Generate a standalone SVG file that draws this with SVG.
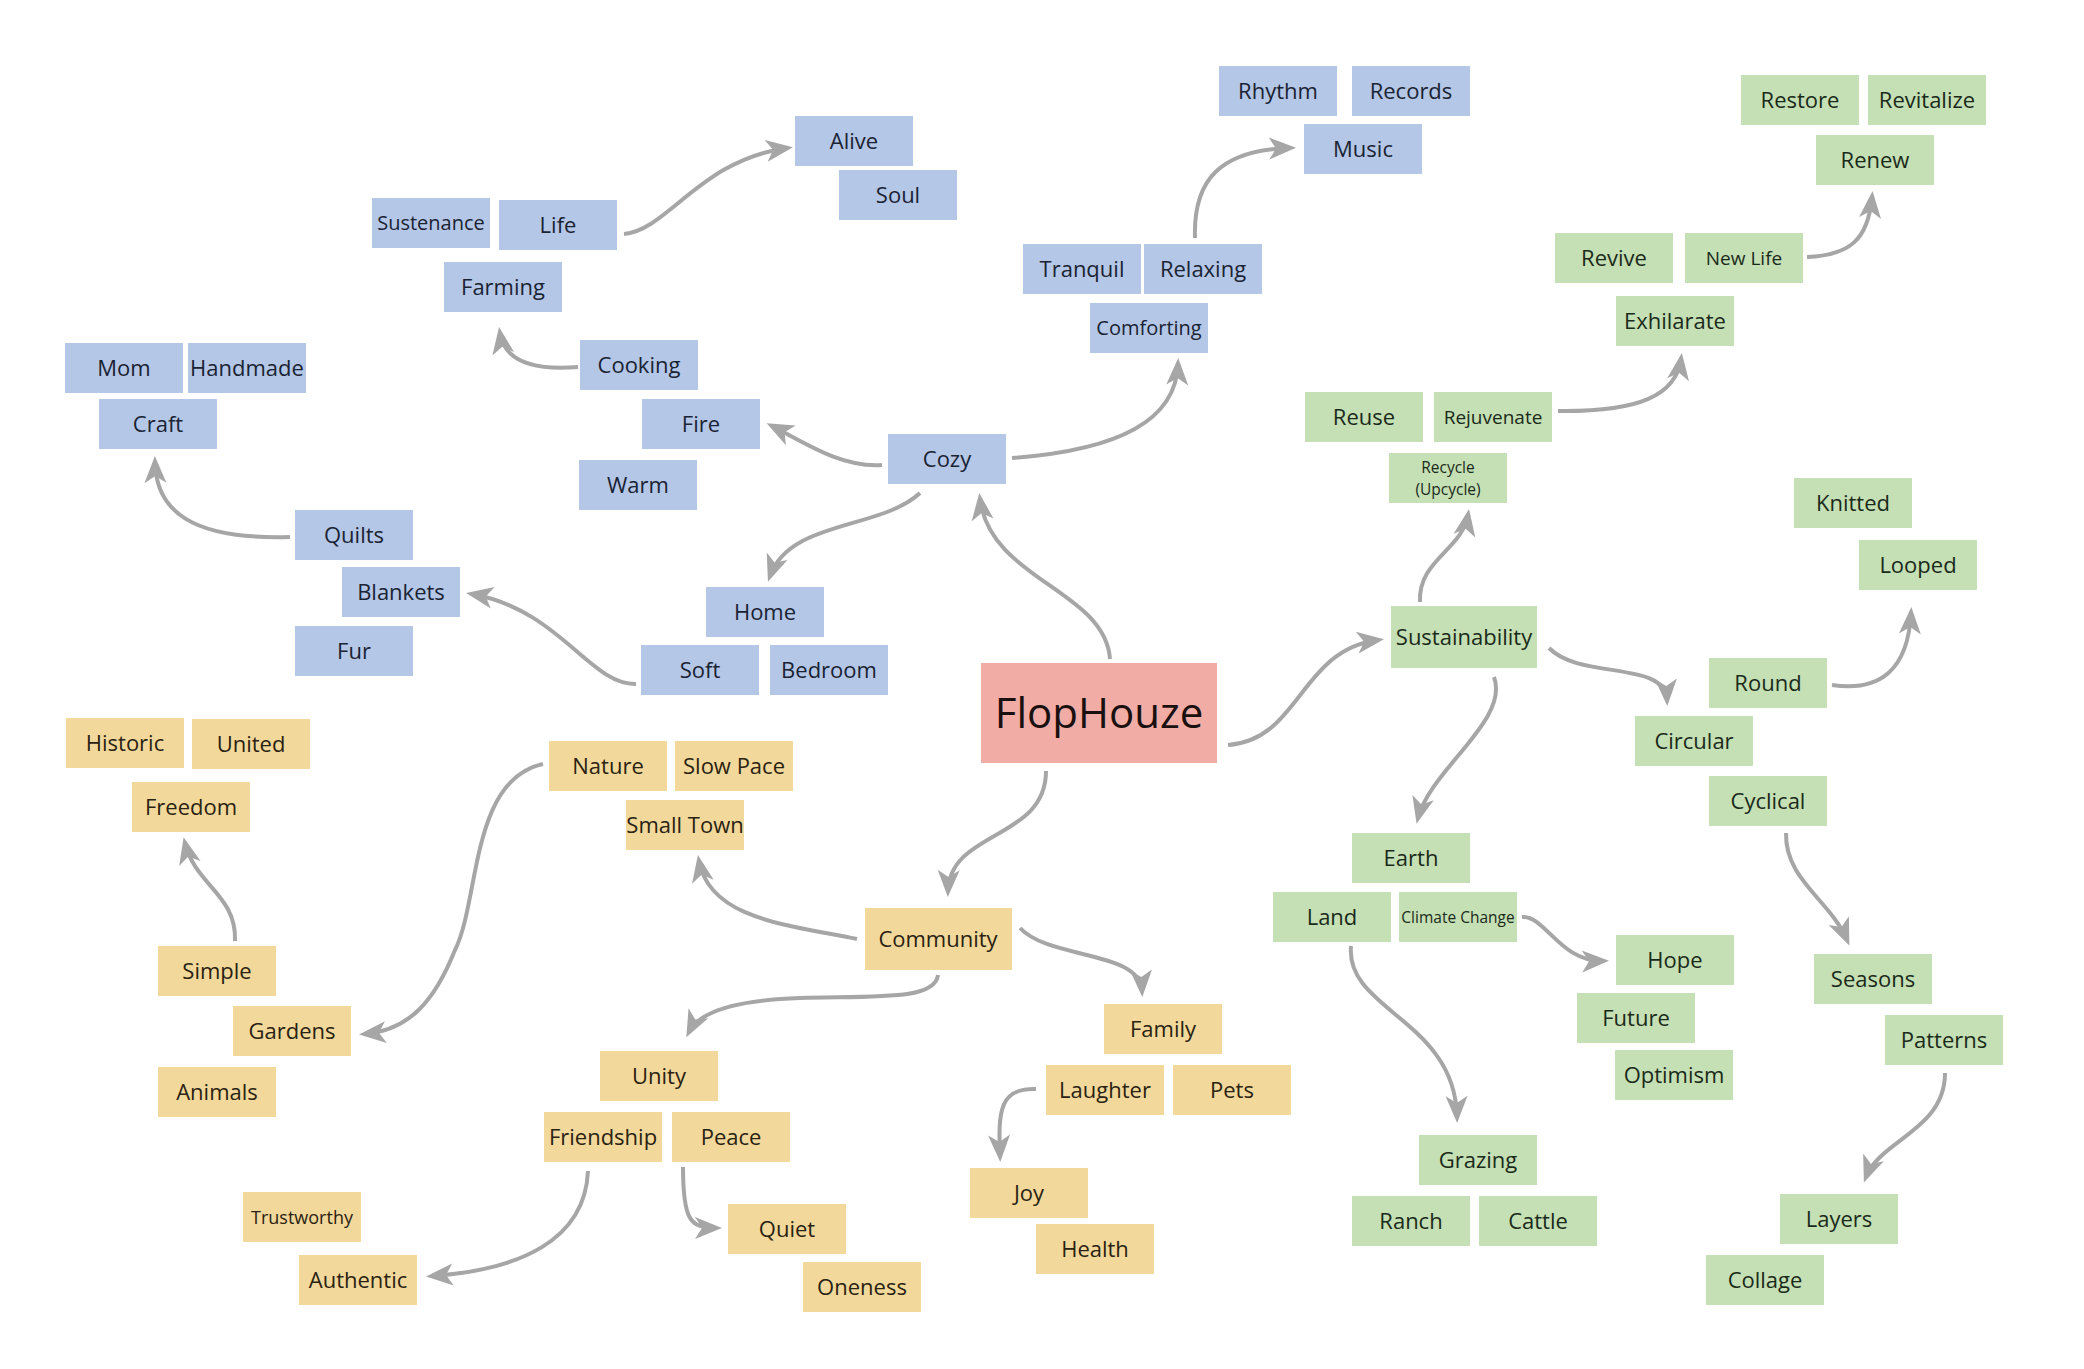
<svg xmlns="http://www.w3.org/2000/svg" width="2084" height="1369" viewBox="0 0 2084 1369">
<style>
.n text{font-family:"Open Sans","Noto Sans","Liberation Sans",sans-serif;font-size:22px;text-anchor:middle}
.b rect{fill:#b4c7e7}.b text{fill:#1a2333}
.g rect{fill:#c5e0b4}.g text{fill:#1a2a1a}
.y rect{fill:#f2d99b}.y text{fill:#2a2212}
.c rect{fill:#f0aca5}.c text{fill:#1a1010;font-size:42px}
.s20 text{font-size:20px}.s19 text{font-size:19px}.s18 text{font-size:18px}.s15 text{font-size:15.5px}
#connectors path{fill:none;stroke:#a6a6a6;stroke-width:4;marker-end:url(#ah)}
</style>
<defs>
<marker id="ah" markerUnits="userSpaceOnUse" markerWidth="40" markerHeight="40" viewBox="-30 -20 40 40" refX="0" refY="0" orient="auto">
<path d="M-21,-11 L6,0 L-21,11 L-14,0 Z" fill="#a6a6a6"/>
</marker>
</defs>
<rect width="2084" height="1369" fill="#ffffff"/>
<g id="connectors">
<path d="M624,234 C668,230 700,160 787,148"/>
<path d="M578,367 C540,370 505,365 500,333"/>
<path d="M882,465 C840,468 800,440 772,426"/>
<path d="M1012,458 C1120,450 1176,420 1178,364"/>
<path d="M1195,238 C1193,180 1220,150 1290,148"/>
<path d="M920,493 C880,530 790,520 770,576"/>
<path d="M1110,659 C1105,590 990,580 980,499"/>
<path d="M1228,745 C1300,740 1300,650 1378,640"/>
<path d="M1046,771 C1046,840 950,830 948,891"/>
<path d="M636,684 C590,685 560,610 472,594"/>
<path d="M290,537 C190,540 156,510 155,462"/>
<path d="M543,764 C470,780 480,900 455,950 C435,1000 410,1030 365,1034"/>
<path d="M235,941 C237,895 195,885 185,843"/>
<path d="M857,939 C790,925 710,920 699,861"/>
<path d="M938,975 C935,1000 880,996 800,998 C740,1000 700,1010 689,1032"/>
<path d="M1020,928 C1050,960 1140,950 1142,991"/>
<path d="M1036,1089 C1000,1088 998,1110 1000,1156"/>
<path d="M588,1171 C585,1240 520,1270 432,1276"/>
<path d="M683,1167 C683,1220 690,1228 716,1228"/>
<path d="M1558,411 C1640,412 1676,395 1681,359"/>
<path d="M1807,257 C1850,255 1868,240 1872,197"/>
<path d="M1420,602 C1418,560 1462,550 1468,515"/>
<path d="M1549,648 C1580,680 1665,660 1667,700"/>
<path d="M1832,685 C1880,692 1908,670 1911,613"/>
<path d="M1494,677 C1510,720 1430,770 1418,818"/>
<path d="M1786,833 C1785,880 1830,900 1847,940"/>
<path d="M1522,917 C1545,915 1560,962 1603,961"/>
<path d="M1351,946 C1345,1010 1455,1020 1457,1117"/>
<path d="M1945,1073 C1945,1130 1880,1140 1866,1177"/>
</g>
<g id="node-flophouze" class="n c"><rect x="981" y="663" width="236" height="100"/><text x="1099" y="728">FlopHouze</text></g>
<g id="node-alive" class="n b"><rect x="795" y="116" width="118" height="50"/><text x="854" y="149">Alive</text></g>
<g id="node-soul" class="n b"><rect x="839" y="170" width="118" height="50"/><text x="898" y="203">Soul</text></g>
<g id="node-rhythm" class="n b"><rect x="1219" y="66" width="118" height="50"/><text x="1278" y="99">Rhythm</text></g>
<g id="node-records" class="n b"><rect x="1352" y="66" width="118" height="50"/><text x="1411" y="99">Records</text></g>
<g id="node-music" class="n b"><rect x="1304" y="124" width="118" height="50"/><text x="1363" y="157">Music</text></g>
<g id="node-sustenance" class="n b s20"><rect x="372" y="198" width="118" height="50"/><text x="431" y="230">Sustenance</text></g>
<g id="node-life" class="n b"><rect x="499" y="200" width="118" height="50"/><text x="558" y="233">Life</text></g>
<g id="node-farming" class="n b"><rect x="444" y="262" width="118" height="50"/><text x="503" y="295">Farming</text></g>
<g id="node-cooking" class="n b"><rect x="580" y="340" width="118" height="50"/><text x="639" y="373">Cooking</text></g>
<g id="node-mom" class="n b"><rect x="65" y="343" width="118" height="50"/><text x="124" y="376">Mom</text></g>
<g id="node-handmade" class="n b"><rect x="188" y="343" width="118" height="50"/><text x="247" y="376">Handmade</text></g>
<g id="node-craft" class="n b"><rect x="99" y="399" width="118" height="50"/><text x="158" y="432">Craft</text></g>
<g id="node-tranquil" class="n b"><rect x="1023" y="244" width="118" height="50"/><text x="1082" y="277">Tranquil</text></g>
<g id="node-relaxing" class="n b"><rect x="1144" y="244" width="118" height="50"/><text x="1203" y="277">Relaxing</text></g>
<g id="node-comforting" class="n b s20"><rect x="1090" y="303" width="118" height="50"/><text x="1149" y="335">Comforting</text></g>
<g id="node-fire" class="n b"><rect x="642" y="399" width="118" height="50"/><text x="701" y="432">Fire</text></g>
<g id="node-cozy" class="n b"><rect x="888" y="434" width="118" height="50"/><text x="947" y="467">Cozy</text></g>
<g id="node-warm" class="n b"><rect x="579" y="460" width="118" height="50"/><text x="638" y="493">Warm</text></g>
<g id="node-quilts" class="n b"><rect x="295" y="510" width="118" height="50"/><text x="354" y="543">Quilts</text></g>
<g id="node-blankets" class="n b"><rect x="342" y="567" width="118" height="50"/><text x="401" y="600">Blankets</text></g>
<g id="node-fur" class="n b"><rect x="295" y="626" width="118" height="50"/><text x="354" y="659">Fur</text></g>
<g id="node-home" class="n b"><rect x="706" y="587" width="118" height="50"/><text x="765" y="620">Home</text></g>
<g id="node-soft" class="n b"><rect x="641" y="645" width="118" height="50"/><text x="700" y="678">Soft</text></g>
<g id="node-bedroom" class="n b"><rect x="770" y="645" width="118" height="50"/><text x="829" y="678">Bedroom</text></g>
<g id="node-historic" class="n y"><rect x="66" y="718" width="118" height="50"/><text x="125" y="751">Historic</text></g>
<g id="node-united" class="n y"><rect x="192" y="719" width="118" height="50"/><text x="251" y="752">United</text></g>
<g id="node-freedom" class="n y"><rect x="132" y="782" width="118" height="50"/><text x="191" y="815">Freedom</text></g>
<g id="node-nature" class="n y"><rect x="549" y="741" width="118" height="50"/><text x="608" y="774">Nature</text></g>
<g id="node-slowpace" class="n y"><rect x="675" y="741" width="118" height="50"/><text x="734" y="774">Slow Pace</text></g>
<g id="node-smalltown" class="n y"><rect x="626" y="800" width="118" height="50"/><text x="685" y="833">Small Town</text></g>
<g id="node-simple" class="n y"><rect x="158" y="946" width="118" height="50"/><text x="217" y="979">Simple</text></g>
<g id="node-gardens" class="n y"><rect x="233" y="1006" width="118" height="50"/><text x="292" y="1039">Gardens</text></g>
<g id="node-animals" class="n y"><rect x="158" y="1067" width="118" height="50"/><text x="217" y="1100">Animals</text></g>
<g id="node-unity" class="n y"><rect x="600" y="1051" width="118" height="50"/><text x="659" y="1084">Unity</text></g>
<g id="node-friendship" class="n y"><rect x="544" y="1112" width="118" height="50"/><text x="603" y="1145">Friendship</text></g>
<g id="node-peace" class="n y"><rect x="672" y="1112" width="118" height="50"/><text x="731" y="1145">Peace</text></g>
<g id="node-trustworthy" class="n y s18"><rect x="243" y="1192" width="118" height="50"/><text x="302" y="1224">Trustworthy</text></g>
<g id="node-authentic" class="n y"><rect x="299" y="1255" width="118" height="50"/><text x="358" y="1288">Authentic</text></g>
<g id="node-community" class="n y"><rect x="865" y="908" width="147" height="62"/><text x="938" y="947">Community</text></g>
<g id="node-family" class="n y"><rect x="1104" y="1004" width="118" height="50"/><text x="1163" y="1037">Family</text></g>
<g id="node-laughter" class="n y"><rect x="1046" y="1065" width="118" height="50"/><text x="1105" y="1098">Laughter</text></g>
<g id="node-pets" class="n y"><rect x="1173" y="1065" width="118" height="50"/><text x="1232" y="1098">Pets</text></g>
<g id="node-quiet" class="n y"><rect x="728" y="1204" width="118" height="50"/><text x="787" y="1237">Quiet</text></g>
<g id="node-oneness" class="n y"><rect x="803" y="1262" width="118" height="50"/><text x="862" y="1295">Oneness</text></g>
<g id="node-joy" class="n y"><rect x="970" y="1168" width="118" height="50"/><text x="1029" y="1201">Joy</text></g>
<g id="node-health" class="n y"><rect x="1036" y="1224" width="118" height="50"/><text x="1095" y="1257">Health</text></g>
<g id="node-restore" class="n g"><rect x="1741" y="75" width="118" height="50"/><text x="1800" y="108">Restore</text></g>
<g id="node-revitalize" class="n g"><rect x="1868" y="75" width="118" height="50"/><text x="1927" y="108">Revitalize</text></g>
<g id="node-renew" class="n g"><rect x="1816" y="135" width="118" height="50"/><text x="1875" y="168">Renew</text></g>
<g id="node-revive" class="n g"><rect x="1555" y="233" width="118" height="50"/><text x="1614" y="266">Revive</text></g>
<g id="node-newlife" class="n g s19"><rect x="1685" y="233" width="118" height="50"/><text x="1744" y="265">New Life</text></g>
<g id="node-exhilarate" class="n g"><rect x="1616" y="296" width="118" height="50"/><text x="1675" y="329">Exhilarate</text></g>
<g id="node-reuse" class="n g"><rect x="1305" y="392" width="118" height="50"/><text x="1364" y="425">Reuse</text></g>
<g id="node-rejuvenate" class="n g s19"><rect x="1434" y="392" width="118" height="50"/><text x="1493" y="424">Rejuvenate</text></g>
<g id="node-recycle" class="n g s15"><rect x="1389" y="453" width="118" height="50"/><text x="1448" y="473">Recycle</text><text x="1448" y="495">(Upcycle)</text></g>
<g id="node-knitted" class="n g"><rect x="1794" y="478" width="118" height="50"/><text x="1853" y="511">Knitted</text></g>
<g id="node-looped" class="n g"><rect x="1859" y="540" width="118" height="50"/><text x="1918" y="573">Looped</text></g>
<g id="node-sustainability" class="n g"><rect x="1391" y="606" width="146" height="62"/><text x="1464" y="645">Sustainability</text></g>
<g id="node-round" class="n g"><rect x="1709" y="658" width="118" height="50"/><text x="1768" y="691">Round</text></g>
<g id="node-circular" class="n g"><rect x="1635" y="716" width="118" height="50"/><text x="1694" y="749">Circular</text></g>
<g id="node-cyclical" class="n g"><rect x="1709" y="776" width="118" height="50"/><text x="1768" y="809">Cyclical</text></g>
<g id="node-earth" class="n g"><rect x="1352" y="833" width="118" height="50"/><text x="1411" y="866">Earth</text></g>
<g id="node-land" class="n g"><rect x="1273" y="892" width="118" height="50"/><text x="1332" y="925">Land</text></g>
<g id="node-climatechange" class="n g s15"><rect x="1399" y="892" width="118" height="50"/><text x="1458" y="923">Climate Change</text></g>
<g id="node-hope" class="n g"><rect x="1616" y="935" width="118" height="50"/><text x="1675" y="968">Hope</text></g>
<g id="node-future" class="n g"><rect x="1577" y="993" width="118" height="50"/><text x="1636" y="1026">Future</text></g>
<g id="node-optimism" class="n g"><rect x="1615" y="1050" width="118" height="50"/><text x="1674" y="1083">Optimism</text></g>
<g id="node-seasons" class="n g"><rect x="1814" y="954" width="118" height="50"/><text x="1873" y="987">Seasons</text></g>
<g id="node-patterns" class="n g"><rect x="1885" y="1015" width="118" height="50"/><text x="1944" y="1048">Patterns</text></g>
<g id="node-grazing" class="n g"><rect x="1419" y="1135" width="118" height="50"/><text x="1478" y="1168">Grazing</text></g>
<g id="node-ranch" class="n g"><rect x="1352" y="1196" width="118" height="50"/><text x="1411" y="1229">Ranch</text></g>
<g id="node-cattle" class="n g"><rect x="1479" y="1196" width="118" height="50"/><text x="1538" y="1229">Cattle</text></g>
<g id="node-layers" class="n g"><rect x="1780" y="1194" width="118" height="50"/><text x="1839" y="1227">Layers</text></g>
<g id="node-collage" class="n g"><rect x="1706" y="1255" width="118" height="50"/><text x="1765" y="1288">Collage</text></g>
</svg>
